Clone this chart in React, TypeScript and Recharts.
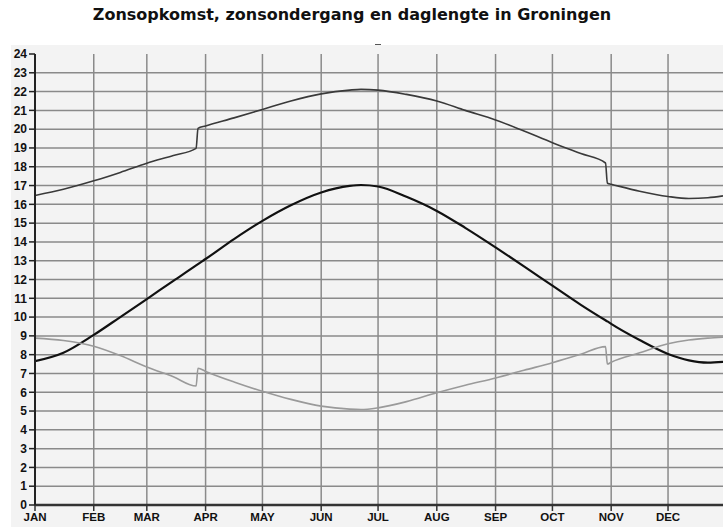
import { LineChart, Line, XAxis, YAxis, CartesianGrid } from 'recharts';

// day of year (0 = 1 jan), times in decimal hours
const days = [0, 15, 31, 45, 59, 73, 85, 86, 90, 105, 120, 135, 151, 166, 172, 181, 196, 212, 227, 243, 258, 273, 288, 301, 302, 304, 319, 334, 345, 355, 363];
const sunrise = [8.88, 8.75, 8.45, 7.95, 7.34, 6.82, 6.33, 7.28, 7.11, 6.55, 6.05, 5.62, 5.26, 5.1, 5.08, 5.17, 5.5, 5.97, 6.37, 6.76, 7.17, 7.57, 8.02, 8.43, 7.5, 7.6, 8.1, 8.58, 8.78, 8.88, 8.93];
const sunset = [16.47, 16.8, 17.25, 17.7, 18.19, 18.6, 18.98, 20.04, 20.17, 20.6, 21.05, 21.5, 21.88, 22.08, 22.12, 22.08, 21.85, 21.5, 21.0, 20.49, 19.9, 19.28, 18.7, 18.2, 17.12, 17.07, 16.7, 16.42, 16.31, 16.35, 16.45];
const dayLength = [7.65, 8.1, 9.05, 10.0, 10.96, 11.93, 12.75, 12.82, 13.09, 14.15, 15.12, 15.95, 16.63, 16.98, 17.03, 16.95, 16.4, 15.65, 14.75, 13.71, 12.7, 11.67, 10.65, 9.83, 9.77, 9.64, 8.78, 8.04, 7.7, 7.58, 7.62];

const monthStarts = [0, 31, 59, 90, 120, 151, 181, 212, 243, 273, 304, 334];
const monthLabels = ['JAN', 'FEB', 'MAR', 'APR', 'MAY', 'JUN', 'JUL', 'AUG', 'SEP', 'OCT', 'NOV', 'DEC'];
const hourTicks = Array.from({ length: 25 }, (_, i) => i);

const data = days.map((d, i) => ({
  day: d,
  sunrise: sunrise[i],
  sunset: sunset[i],
  dayLength: dayLength[i],
}));

const tickStyle = { fill: '#111', fontSize: 12, fontWeight: 700, fontFamily: 'Liberation Sans, Arial, sans-serif' };

export default function App() {
  return (
    <div style={{ position: 'absolute', left: 0, top: 0, width: 723, height: 527, background: '#fff', overflow: 'hidden' }}>
      <div
        style={{
          position: 'absolute',
          left: 0,
          top: 5,
          width: 704,
          textAlign: 'center',
          fontFamily: 'DejaVu Sans, sans-serif',
          fontWeight: 700,
          fontSize: 16,
          color: '#111',
        }}
      >
        Zonsopkomst, zonsondergang en daglengte in Groningen
      </div>
      <div style={{ position: 'absolute', left: 375, top: 44, width: 6, height: 2, background: '#555' }} />
      <div style={{ position: 'absolute', left: 11, top: 45 }}>
        <LineChart
          width={712}
          height={482}
          data={data}
          margin={{ top: 9, right: 0, left: 0, bottom: 0 }}
          style={{ background: '#f3f3f3' }}
        >
          <CartesianGrid
            stroke="#8a8a8a"
            strokeWidth={1.5}
            horizontalValues={hourTicks.slice(1, 24)}
            verticalValues={monthStarts.slice(1)}
          />
          <XAxis
            dataKey="day"
            type="number"
            domain={[0, 363]}
            ticks={monthStarts}
            tickFormatter={(v: number) => monthLabels[monthStarts.indexOf(v)]}
            tick={{ ...tickStyle, fontSize: 11.5 }}
            axisLine={{ stroke: '#333', strokeWidth: 2.5 }}
            tickLine={{ stroke: '#333', strokeWidth: 1.5 }}
            height={22}
            interval={0}
            allowDataOverflow
          />
          <YAxis
            type="number"
            domain={[0, 24]}
            ticks={hourTicks}
            tick={tickStyle}
            axisLine={{ stroke: '#222', strokeWidth: 2 }}
            tickLine={{ stroke: '#222', strokeWidth: 1.5 }}
            width={24}
            interval={0}
          />
          <Line type="monotone" dataKey="sunset" stroke="#3a3a3a" strokeWidth={1.6} dot={false} isAnimationActive={false} />
          <Line type="monotone" dataKey="dayLength" stroke="#111" strokeWidth={2.2} dot={false} isAnimationActive={false} />
          <Line type="monotone" dataKey="sunrise" stroke="#9a9a9a" strokeWidth={1.6} dot={false} isAnimationActive={false} />
        </LineChart>
      </div>
    </div>
  );
}
